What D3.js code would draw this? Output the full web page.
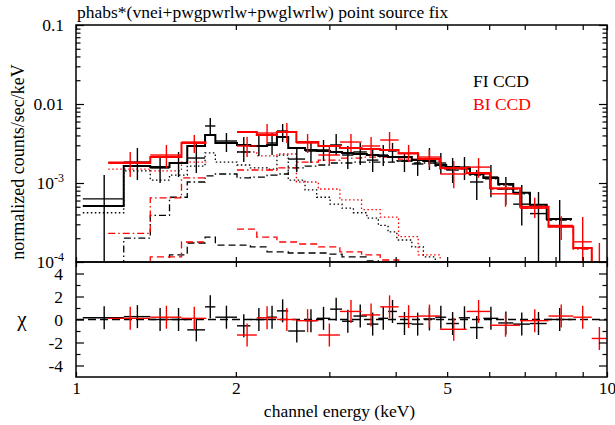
<!DOCTYPE html>
<html><head><meta charset="utf-8">
<script src="https://cdn.jsdelivr.net/npm/d3@7"></script>
<style>
body{margin:0;background:#fff;}
svg{display:block;}
</style></head><body>
<svg id="c" width="615" height="425"></svg>
<script>
// ---------- data (energies in keV, values in counts/s/keV) ----------
const titleText = "phabs*(vnei+pwgpwrlw+pwglwrlw) point source fix";
const xTickVals = [1,2,3,4,5,6,7,8,9,10];
const xTickLabels = [1,2,5,10];
const yMajorVals = [1e-4,1e-3,1e-2,1e-1];
const yTickLabels = ["10^-4","10^-3","0.01","0.1"];
const chiMajor = [-4,-2,0,2,4];
const chiMinor = [-3,-1,1,3];
const legendLabels = ["FI CCD","BI CCD"];

// FI CCD (black)
const fiEdges = [1.03,1.23,1.38,1.50,1.62,1.75,1.83,2.01,2.13,2.29,2.39,2.51,2.70,2.84,3.01,3.17,3.33,3.53,3.71,3.87,4.02,4.29,4.51,4.75,4.98,5.26,5.52,5.85,6.24,6.66,7.16,7.70,8.59];
const fiData  = [6.3e-4,1.84e-3,1.55e-3,1.79e-3,2.07e-3,5.27e-3,3.40e-3,2.47e-3,2.94e-3,3.21e-3,4.55e-3,2.01e-3,2.54e-3,2.62e-3,3.03e-3,2.26e-3,2.47e-3,1.95e-3,2.26e-3,2.54e-3,1.90e-3,1.74e-3,2.01e-3,1.79e-3,1.46e-3,1.59e-3,1.03e-3,1.19e-3,8.4e-4,5.4e-4,4.1e-4,3.5e-4];
const fiHi    = [1.26e-3,2.77e-3,2.13e-3,2.47e-3,3.21e-3,6.65e-3,4.29e-3,3.82e-3,4.17e-3,4.29e-3,5.58e-3,2.77e-3,3.40e-3,3.50e-3,4.17e-3,2.94e-3,3.21e-3,2.62e-3,3.03e-3,3.21e-3,2.40e-3,2.47e-3,2.77e-3,2.40e-3,2.07e-3,2.13e-3,1.46e-3,1.69e-3,1.19e-3,9.4e-4,7.7e-4,6.1e-4];
const fiLo    = [5e-5,1.09e-3,1.0e-3,1.19e-3,1.34e-3,4.05e-3,2.47e-3,1.84e-3,2.20e-3,2.26e-3,3.30e-3,1.38e-3,1.79e-3,1.90e-3,2.26e-3,1.50e-3,1.69e-3,1.38e-3,1.64e-3,1.84e-3,1.38e-3,1.23e-3,1.46e-3,1.30e-3,1.0e-3,1.09e-3,6.1e-4,6.6e-4,5.3e-4,2.9e-4,5e-5,5e-5];
const fiModel = [5.1e-4,1.64e-3,1.59e-3,1.79e-3,2.94e-3,4.05e-3,3.21e-3,3.03e-3,2.94e-3,3.03e-3,3.82e-3,2.77e-3,2.62e-3,2.54e-3,2.47e-3,2.40e-3,2.33e-3,2.26e-3,2.20e-3,2.13e-3,2.13e-3,1.95e-3,1.90e-3,1.69e-3,1.59e-3,1.55e-3,1.30e-3,1.16e-3,9.7e-4,7.5e-4,5.3e-4,3.5e-4];
const fiVnei  = [4.2e-4,1.42e-3,1.09e-3,1.26e-3,1.64e-3,2.40e-3,1.84e-3,1.69e-3,1.55e-3,1.50e-3,2.26e-3,1.09e-3,8.2e-4,6.6e-4,5.4e-4,4.8e-4,4.2e-4,3.6e-4,2.9e-4,2.4e-4,1.9e-4,1.55e-4,1.16e-4,8e-5,6e-5,5e-5,4e-5,3e-5,2e-5,1.5e-5,1e-5,1e-5];
const fiPow   = [8e-5,2.0e-4,3.9e-4,6.6e-4,1.03e-3,1.23e-3,1.30e-3,1.16e-3,1.19e-3,1.26e-3,1.30e-3,1.55e-3,1.64e-3,1.69e-3,1.79e-3,1.79e-3,1.84e-3,1.84e-3,1.84e-3,1.84e-3,1.90e-3,1.79e-3,1.79e-3,1.64e-3,1.55e-3,1.50e-3,1.26e-3,1.13e-3,9.4e-4,7.3e-4,5.1e-4,3.4e-4];
const fiPwgl  = [3e-5,5e-5,8e-5,1.23e-4,1.74e-4,2.07e-4,1.64e-4,1.64e-4,1.55e-4,1.34e-4,1.34e-4,1.30e-4,1.30e-4,1.30e-4,1.26e-4,1.16e-4,1.16e-4,1.03e-4,9.8e-5,9.5e-5,9e-5,8.5e-5,8e-5,7.5e-5,7e-5,6.5e-5,6e-5,5.5e-5,5e-5,4.5e-5,4e-5,3.5e-5];
const fiChi   = [0.15,0.25,0,0,-0.9,1.1,0.2,-0.55,0,0.2,0.75,-1.0,-0.1,0.1,0.9,-0.15,0.3,-0.4,0.1,0.7,-0.35,-0.4,0.05,0.2,-0.35,0.15,-0.7,0.1,-0.3,-0.4,-0.35,0];

// BI CCD (red)
const biEdges = [1.15,1.38,1.58,1.76,2.01,2.19,2.39,2.60,2.86,3.14,3.45,3.74,4.05,4.41,4.85,5.44,6.02,6.86,7.76,8.64,9.36,9.99];
const biData  = [1.84e-3,2.26e-3,3.30e-3,null,2.94e-3,4.29e-3,4.42e-3,3.21e-3,2.26e-3,3.30e-3,2.94e-3,3.50e-3,2.40e-3,2.13e-3,1.30e-3,1.59e-3,7.3e-4,4.8e-4,2.9e-4,1.8e-4,5.5e-5];
const biHi    = [2.47e-3,3.03e-3,4.05e-3,null,3.82e-3,5.58e-3,5.75e-3,4.17e-3,2.94e-3,4.17e-3,3.82e-3,4.42e-3,3.03e-3,2.62e-3,1.90e-3,2.07e-3,1.0e-3,6.5e-4,3.8e-4,3.7e-4,1.74e-4];
const biLo    = [1.19e-3,1.55e-3,2.40e-3,null,2.13e-3,3.12e-3,3.21e-3,2.40e-3,1.69e-3,2.47e-3,2.20e-3,2.69e-3,1.84e-3,1.59e-3,8.6e-4,1.16e-3,5.0e-4,3.6e-4,1.9e-4,3e-5,1e-5];
const biModel = [1.79e-3,2.13e-3,3.21e-3,null,4.42e-3,4.05e-3,4.42e-3,3.30e-3,2.94e-3,2.77e-3,2.69e-3,2.62e-3,2.36e-3,2.01e-3,1.55e-3,1.34e-3,8.6e-4,5.0e-4,2.8e-4,1.5e-4,8e-5];
const biVnei  = [1.50e-3,1.42e-3,1.84e-3,null,2.47e-3,2.20e-3,2.33e-3,1.03e-3,8.4e-4,6.1e-4,4.6e-4,3.7e-4,2.1e-4,1.23e-4,8e-5,6e-5,4e-5,3e-5,2e-5,1.5e-5,1e-5];
const biPow   = [2.3e-4,6.5e-4,1.16e-3,null,1.46e-3,1.46e-3,1.55e-3,1.84e-3,1.95e-3,2.07e-3,2.13e-3,2.13e-3,2.01e-3,1.90e-3,1.50e-3,1.30e-3,8.4e-4,4.8e-4,2.8e-4,1.46e-4,7.5e-5];
const biPwgl  = [7e-5,1.16e-4,1.79e-4,null,2.6e-4,2.07e-4,1.79e-4,1.69e-4,1.55e-4,1.34e-4,1.23e-4,1.06e-4,9.5e-5,9e-5,8e-5,7e-5,6e-5,5e-5,4e-5,3.5e-5,3e-5];
const biChi   = [0.1,0.2,0.1,null,-1.35,0.15,0,-0.1,-1.35,0.7,0.4,1.1,0.25,0.3,-0.85,0.7,-0.5,-0.1,0.3,0.2,-1.65];

// ---------- layout ----------
const L=76, R=607, T=25, M=262, B=377;
const FS=17.5;
const FONT="'Liberation Serif','Times New Roman',serif";
const BLACK="#000", RED="#ff0000";
const svg=d3.select("#c");
const x=d3.scaleLog().domain([1,10]).range([L,R]);
const y=d3.scaleLog().domain([1e-4,0.1]).range([M,T]);
const yc=d3.scaleLinear().domain([-5,5]).range([B,M]);

const defs=svg.append("defs");
defs.append("clipPath").attr("id","cpTop").append("rect").attr("x",L).attr("y",T).attr("width",R-L).attr("height",M-T);
defs.append("clipPath").attr("id","cpRes").append("rect").attr("x",L).attr("y",M).attr("width",R-L).attr("height",B-M);

const gTop=svg.append("g").attr("clip-path","url(#cpTop)");
const gRes=svg.append("g").attr("clip-path","url(#cpRes)");

function steps(g, edges, vals, ys, color, width, dash){
  let d="", open=false;
  for(let i=0;i<vals.length;i++){
    const v=vals[i];
    if(v==null){open=false;continue;}
    const yy=ys(v);
    if(!open){d+=`M${x(edges[i])},${yy}`;open=true;} else d+=`V${yy}`;
    d+=`H${x(edges[i+1])}`;
  }
  const p=g.append("path").attr("d",d).attr("fill","none").attr("stroke",color)
    .attr("stroke-width",width).attr("stroke-linejoin","miter");
  if(dash) p.attr("stroke-dasharray",dash);
}
function crosses(g, edges, vals, lo, hi, ys, color, width){
  for(let i=0;i<vals.length;i++){
    const v=vals[i]; if(v==null) continue;
    const xm=x((edges[i]+edges[i+1])/2);
    g.append("line").attr("x1",x(edges[i])).attr("x2",x(edges[i+1]))
      .attr("y1",ys(v)).attr("y2",ys(v)).attr("stroke",color).attr("stroke-width",width);
    g.append("line").attr("x1",xm).attr("x2",xm)
      .attr("y1",ys(lo[i])).attr("y2",ys(hi[i])).attr("stroke",color).attr("stroke-width",width);
  }
}

// components
const dotDash="1.5,2.5", dashDot="7,3,1.5,3", dashed="7,4";
steps(gTop, fiEdges, fiVnei, y, BLACK, 1.3, dotDash);
steps(gTop, fiEdges, fiPow,  y, BLACK, 1.3, dashDot);
steps(gTop, fiEdges, fiPwgl, y, BLACK, 1.3, dashed);
steps(gTop, biEdges, biVnei, y, RED, 1.3, dotDash);
steps(gTop, biEdges, biPow,  y, RED, 1.3, dashDot);
steps(gTop, biEdges, biPwgl, y, RED, 1.3, dashed);
// models and data
steps(gTop, fiEdges, fiModel, y, BLACK, 2);
crosses(gTop, fiEdges, fiData, fiLo, fiHi, y, BLACK, 1.4);
steps(gTop, biEdges, biModel, y, RED, 2);
crosses(gTop, biEdges, biData, biLo, biHi, y, RED, 1.4);

// residuals
gRes.append("line").attr("x1",L).attr("x2",R).attr("y1",yc(0)).attr("y2",yc(0))
  .attr("stroke",BLACK).attr("stroke-width",1.3).attr("stroke-dasharray","8,4");
const fiChiLo=fiChi.map(c=>c-1), fiChiHi=fiChi.map(c=>c+1);
const biChiLo=biChi.map(c=>c==null?null:c-1), biChiHi=biChi.map(c=>c==null?null:c+1);
crosses(gRes, fiEdges, fiChi, fiChiLo, fiChiHi, yc, BLACK, 1.4);
crosses(gRes, biEdges, biChi, biChiLo, biChiHi, yc, RED, 1.4);

// ---------- axes ----------
function styleAxis(g){
  g.attr("font-size",null).attr("font-family",null);
  g.select(".domain").remove();
  g.selectAll(".tick line").attr("stroke","#000").attr("stroke-width",1.2);
}
function addAxis(gen, scale, tx, ty, vals, size){
  svg.append("g").attr("transform",`translate(${tx},${ty})`)
    .call(gen(scale).tickValues(vals).tickSize(size).tickFormat(""))
    .call(styleAxis);
}
addAxis(d3.axisTop, x, 0, T, xTickVals, -5);
addAxis(d3.axisBottom, x, 0, M, xTickVals, -5);
addAxis(d3.axisTop, x, 0, M, xTickVals, -5);
addAxis(d3.axisBottom, x, 0, B, xTickVals, -5);

const yMinorVals=[];
yMajorVals.slice(0,3).forEach(m=>{for(let k=2;k<=9;k++) yMinorVals.push(m*k);});
addAxis(d3.axisLeft, y, L, 0, yMajorVals, -8);
addAxis(d3.axisRight, y, R, 0, yMajorVals, -8);
addAxis(d3.axisLeft, y, L, 0, yMinorVals, -4.5);
addAxis(d3.axisRight, y, R, 0, yMinorVals, -4.5);
addAxis(d3.axisLeft, yc, L, 0, chiMajor, -8);
addAxis(d3.axisRight, yc, R, 0, chiMajor, -8);
addAxis(d3.axisLeft, yc, L, 0, chiMinor, -4.5);
addAxis(d3.axisRight, yc, R, 0, chiMinor, -4.5);

function txt(sel){ return sel.attr("font-family",FONT).attr("font-size",FS).attr("fill","#000"); }

// x labels
svg.append("g").attr("transform",`translate(0,${B})`)
  .call(d3.axisBottom(x).tickValues(xTickLabels).tickSize(0).tickPadding(5).tickFormat(d=>String(d)))
  .call(g=>{g.attr("font-size",null).attr("font-family",null);g.select(".domain").remove();
    txt(g.selectAll("text"));});

// log y labels
yMajorVals.forEach((v,i)=>{
  const lab=yTickLabels[i];
  const t=txt(svg.append("text")).attr("x",64).attr("y",y(v)+6).attr("text-anchor","end");
  if(lab.includes("^")){
    const [b,s]=lab.split("^");
    t.append("tspan").text(b);
    t.append("tspan").attr("dy",-7).attr("font-size",12).text(s);
  } else t.text(lab);
});
// chi labels
svg.append("g").attr("transform",`translate(${L},0)`)
  .call(d3.axisLeft(yc).tickValues(chiMajor).tickSize(0).tickPadding(13).tickFormat(d=>String(d)))
  .call(g=>{g.attr("font-size",null).attr("font-family",null);g.select(".domain").remove();
    txt(g.selectAll("text"));});

// frames
svg.append("rect").attr("x",L).attr("y",T).attr("width",R-L).attr("height",M-T)
  .attr("fill","none").attr("stroke","#000").attr("stroke-width",1.5);
svg.append("rect").attr("x",L).attr("y",M).attr("width",R-L).attr("height",B-M)
  .attr("fill","none").attr("stroke","#000").attr("stroke-width",1.5);

// texts
txt(svg.append("text")).attr("x",77).attr("y",18).text(titleText);
txt(svg.append("text")).attr("transform",`translate(24,162) rotate(-90)`).attr("text-anchor","middle")
  .attr("font-size",18).text("normalized counts/sec/keV");
txt(svg.append("text")).attr("x",22).attr("y",yc(0)+6).attr("text-anchor","middle")
  .attr("font-size",21).text("χ");
txt(svg.append("text")).attr("x",(L+R)/2-2).attr("y",417).attr("text-anchor","middle")
  .text("channel energy (keV)");
txt(svg.append("text")).attr("x",473).attr("y",87).text(legendLabels[0]);
txt(svg.append("text")).attr("x",473).attr("y",110).attr("fill",RED).text(legendLabels[1]);
</script>
</body></html>
